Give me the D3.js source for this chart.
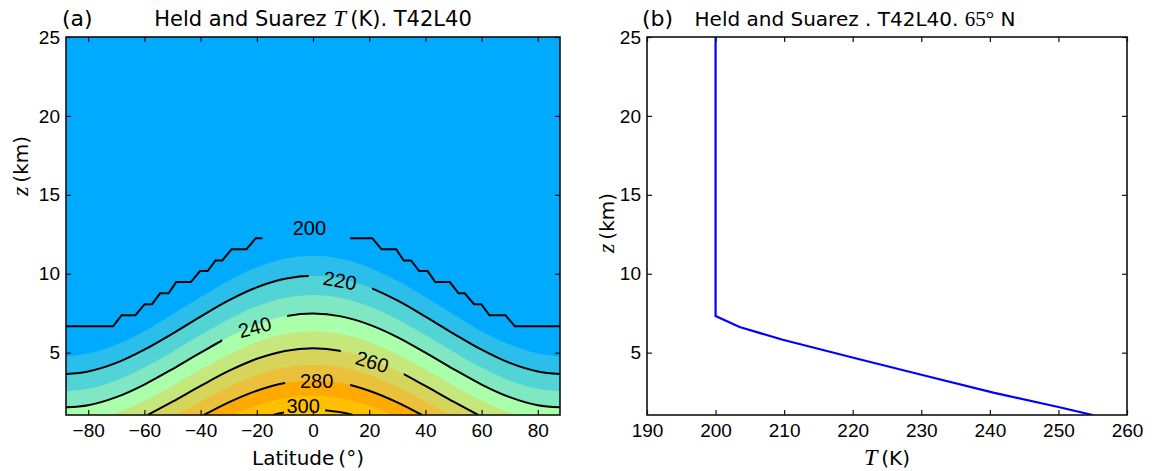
<!DOCTYPE html>
<html>
<head>
<meta charset="utf-8">
<script src="https://d3js.org/d3.v7.min.js"></script>
<style>
  body { margin: 0; background: #fff; }
  text { font-family: 'Liberation Sans', Arial, sans-serif; fill: #000; }
  .lab { font-family: 'DejaVu Sans', sans-serif; }
  .math { font-family: 'Liberation Serif', serif; font-style: italic; }
</style>
<title>Held and Suarez T42L40</title>
</head>
<body>
<script>
var W = 1157, H = 471;
var zBottom = 1.05, zTop = 25;

// contour heights (km)
var lat = [-87.9, -80, -70, -60, -50, -40, -30, -20, -10, 0, 10, 20, 30, 40, 50, 60, 70, 80, 87.9];
var z210 = [4.76, 4.95, 5.51, 6.36, 7.41, 8.52, 9.56, 10.40, 10.95, 11.14, 10.95, 10.40, 9.56, 8.52, 7.41, 6.36, 5.51, 4.95, 4.76];
var z220 = [3.64, 3.81, 4.35, 5.19, 6.21, 7.29, 8.31, 9.14, 9.68, 9.87, 9.68, 9.14, 8.31, 7.29, 6.21, 5.19, 4.35, 3.81, 3.64];
var z230 = [2.56, 2.71, 3.24, 4.06, 5.06, 6.12, 7.12, 7.94, 8.46, 8.65, 8.46, 7.94, 7.12, 6.12, 5.06, 4.06, 3.24, 2.71, 2.56];
var z240 = [1.54, 1.67, 2.18, 2.98, 3.96, 5.00, 5.99, 6.78, 7.30, 7.48, 7.30, 6.78, 5.99, 5.00, 3.96, 2.98, 2.18, 1.67, 1.54];
var lat250 = [-71.6, -70, -60, -50, -40, -30, -20, -10, 0, 10, 20, 30, 40, 50, 60, 70, 71.6];
var z250 = [1.05, 1.17, 1.95, 2.91, 3.93, 4.89, 5.67, 6.18, 6.36, 6.18, 5.67, 4.89, 3.93, 2.91, 1.95, 1.17, 1.05];
var lat260 = [-58.8, -50, -40, -30, -20, -10, 0, 10, 20, 30, 40, 50, 58.8];
var z260 = [1.05, 1.89, 2.89, 3.84, 4.61, 5.11, 5.28, 5.11, 4.61, 3.84, 2.89, 1.89, 1.05];
var lat270 = [-48.6, -40, -30, -20, -10, 0, 10, 20, 30, 40, 48.6];
var z270 = [1.05, 1.90, 2.83, 3.58, 4.08, 4.24, 4.08, 3.58, 2.83, 1.90, 1.05];
var lat280 = [-38.8, -30, -20, -10, 0, 10, 20, 30, 38.8];
var z280 = [1.05, 1.85, 2.59, 3.08, 3.24, 3.08, 2.59, 1.85, 1.05];
var lat290 = [-28.2, -20, -10, 0, 10, 20, 28.2];
var z290 = [1.05, 1.63, 2.11, 2.28, 2.11, 1.63, 1.05];
var lat300 = [-14.2, -10, 0, 10, 14.2];
var z300 = [1.05, 1.22, 1.36, 1.22, 1.05];

// the 200 K contour (stepped, follows model levels)
var lat200L = [-87.9, -71.1, -68.1, -63.2, -59.9, -57.3, -54.4, -51.4, -48.7, -43.5, -40.2, -37.5, -34.7, -32.3, -29.0, -23.7, -20.4, -18.0];
var z200L = [6.68, 6.68, 7.37, 7.37, 8.07, 8.07, 8.76, 8.76, 9.47, 9.47, 10.17, 10.17, 10.84, 10.84, 11.55, 11.55, 12.25, 12.25];
var lat200R = [13.2, 21.1, 24.4, 29.6, 32.3, 34.9, 37.8, 40.8, 43.5, 48.7, 51.8, 54.0, 57.3, 59.9, 62.8, 68.5, 71.8, 87.9];
var z200R = [12.25, 12.25, 11.55, 11.55, 10.84, 10.84, 10.17, 10.17, 9.47, 9.47, 8.76, 8.76, 8.07, 8.07, 7.37, 7.37, 6.68, 6.68];

var levels = [210, 220, 230, 240, 250, 260, 270, 280, 290, 300];
var bandColors = ["#00AAFF", "#2BBEEB", "#52D3D6", "#7FE7C1", "#AAFFAA", "#C5E77C", "#D7D45C", "#EBC03B", "#FFAA00", "#FFC000", "#FFC800"];

// contour labels: text, lat, z, rotation, gap in line
var labelText = ["200", "220", "240", "260", "280", "300"];
var labelLat = [-1.3, 9.6, -20.7, 21.1, 1.3, -3.5];
var labelZ = [12.94, 9.58, 6.62, 4.43, 3.21, 1.62];
var labelRot = [0, 10, -15, 17, 0, 0];
var gapFrom = [null, -1.5, -32.3, 9.9, -9.9, -10.3];
var gapTo = [null, 21.0, -9.2, 32.3, 13.2, 4.3];

// panel (b): profile at 65N
var T65 = [255.0, 250.0, 240.5, 230.3, 220.1, 209.8, 203.5, 200.0, 200.0];
var z65 = [1.05, 1.56, 2.47, 3.57, 4.68, 5.82, 6.62, 7.32, 25];

var latTicks = [-80, -60, -40, -20, 0, 20, 40, 60, 80];
var zTicks = [5, 10, 15, 20, 25];
var tTicks = [190, 200, 210, 220, 230, 240, 250, 260];

var svg = d3.select("body").append("svg").attr("width", W).attr("height", H);

var plotTop = 37, plotBottom = 415;
var xa = d3.scaleLinear().domain([-87.9, 87.9]).range([66, 560]);
var xb = d3.scaleLinear().domain([190, 260]).range([647, 1127]);
var y = d3.scaleLinear().domain([zBottom, zTop]).range([plotBottom, plotTop]);

var defs = svg.append("defs");
defs.append("clipPath").attr("id", "clipA").append("rect")
    .attr("x", xa.range()[0]).attr("y", plotTop)
    .attr("width", xa.range()[1] - xa.range()[0]).attr("height", plotBottom - plotTop);

// ---- panel (a) fills
var ga = svg.append("g").attr("clip-path", "url(#clipA)");
ga.append("rect").attr("x", xa.range()[0]).attr("y", plotTop)
    .attr("width", xa.range()[1] - xa.range()[0]).attr("height", plotBottom - plotTop)
    .style("fill", bandColors[0]);

var contourLat = [lat, lat, lat, lat, lat250, lat260, lat270, lat280, lat290, lat300];
var contourZ = [z210, z220, z230, z240, z250, z260, z270, z280, z290, z300];

var area = d3.area()
    .x(function(d) { return xa(d[0]); })
    .y0(plotBottom + 2)
    .y1(function(d) { return y(d[1]); })
    .curve(d3.curveMonotoneX);
var line = d3.line()
    .x(function(d) { return xa(d[0]); })
    .y(function(d) { return y(d[1]); })
    .curve(d3.curveMonotoneX);

levels.forEach(function(lv, i) {
    ga.append("path").datum(d3.zip(contourLat[i], contourZ[i]))
        .attr("d", area).style("fill", bandColors[i + 1]);
});

// ---- contour lines
var lineIdx = [null, 1, 3, 5, 7, 9]; // 220, 240, 260, 280, 300
lineIdx.forEach(function(li, k) {
    if (li === null) return;
    var id = "gap" + k;
    var cp = defs.append("clipPath").attr("id", id);
    cp.append("rect").attr("x", xa.range()[0]).attr("y", plotTop)
        .attr("width", xa(gapFrom[k]) - xa.range()[0]).attr("height", plotBottom - plotTop);
    cp.append("rect").attr("x", xa(gapTo[k])).attr("y", plotTop)
        .attr("width", xa.range()[1] - xa(gapTo[k])).attr("height", plotBottom - plotTop);
    ga.append("g").attr("clip-path", "url(#" + id + ")")
        .append("path").datum(d3.zip(contourLat[li], contourZ[li]))
        .attr("d", line)
        .style("fill", "none").style("stroke", "#000").style("stroke-width", 2);
});

var stepLine = d3.line().x(function(d) { return xa(d[0]); }).y(function(d) { return y(d[1]); });
[[lat200L, z200L], [lat200R, z200R]].forEach(function(s) {
    ga.append("path").datum(d3.zip(s[0], s[1])).attr("d", stepLine)
        .style("fill", "none").style("stroke", "#000").style("stroke-width", 2);
});

labelText.forEach(function(t, k) {
    ga.append("text")
        .attr("transform", "translate(" + xa(labelLat[k]) + "," + y(labelZ[k]) + ") rotate(" + labelRot[k] + ")")
        .attr("text-anchor", "middle").attr("dy", "0.36em")
        .style("font-size", "20px").text(t);
});

// ---- panel (b)
defs.append("clipPath").attr("id", "clipB").append("rect")
    .attr("x", xb.range()[0]).attr("y", plotTop)
    .attr("width", xb.range()[1] - xb.range()[0]).attr("height", plotBottom - plotTop);
svg.append("g").attr("clip-path", "url(#clipB)")
    .append("path").datum(d3.zip(T65, z65))
    .attr("d", d3.line().x(function(d) { return xb(d[0]); }).y(function(d) { return y(d[1]); }))
    .style("fill", "none").style("stroke", "#0000FF").style("stroke-width", 2.2);

// ---- axes
function drawAxes(x, ticksX, fmt) {
    var x0 = x.range()[0], x1 = x.range()[1];
    var g = svg.append("g");
    g.append("g").attr("transform", "translate(0," + plotBottom + ")")
        .call(d3.axisBottom(x).tickValues(ticksX).tickFormat(fmt).tickSizeInner(-5).tickSizeOuter(0).tickPadding(9));
    g.append("g").attr("transform", "translate(0," + plotTop + ")")
        .call(d3.axisTop(x).tickValues(ticksX).tickFormat("").tickSizeInner(-5).tickSizeOuter(0));
    g.append("g").attr("transform", "translate(" + x0 + ",0)")
        .call(d3.axisLeft(y).tickValues(zTicks).tickSizeInner(-5).tickSizeOuter(0).tickPadding(6));
    g.append("g").attr("transform", "translate(" + x1 + ",0)")
        .call(d3.axisRight(y).tickValues(zTicks).tickFormat("").tickSizeInner(-5).tickSizeOuter(0));
    g.selectAll(".domain").remove();
    g.selectAll(".tick line").style("stroke", "#111").style("stroke-width", 1.2);
    g.selectAll(".tick text").style("font-size", "19px").style("font-family", "'Liberation Sans', Arial, sans-serif").style("fill", "#000");
    g.append("rect").attr("x", x0).attr("y", plotTop).attr("width", x1 - x0).attr("height", plotBottom - plotTop)
        .style("fill", "none").style("stroke", "#111").style("stroke-width", 1.6);
}
drawAxes(xa, latTicks, d3.format("d"));
drawAxes(xb, tTicks, d3.format("d"));

// ---- titles and labels
function title(x, size) {
    return svg.append("text").attr("class", "lab").attr("x", x).attr("y", 26)
        .attr("text-anchor", "middle").style("font-size", size + "px");
}
svg.append("text").attr("class", "lab").attr("x", 62).attr("y", 26).style("font-size", "22px").text("(a)");
svg.append("text").attr("class", "lab").attr("x", 642).attr("y", 26).style("font-size", "22px").text("(b)");

var ta = title(313, 21);
ta.append("tspan").text("Held and Suarez ");
ta.append("tspan").attr("class", "math").style("font-size", "23px").text("T");
ta.append("tspan").text("\u2009(K).  T42L40");

var tb = title(855, 20);
tb.append("tspan").text("Held and Suarez .  T42L40.  ");
tb.append("tspan").attr("class", "math").style("font-style", "normal").style("font-size", "21px").text("65°");
tb.append("tspan").text(" N");

var xla = svg.append("text").attr("class", "lab").attr("x", 308).attr("y", 465)
    .attr("text-anchor", "middle").style("font-size", "20px");
xla.append("tspan").text("Latitude\u2009(°)");

var xlb = svg.append("text").attr("class", "lab").attr("x", 887).attr("y", 465)
    .attr("text-anchor", "middle").style("font-size", "20px");
xlb.append("tspan").attr("class", "math").style("font-size", "24px").text("T");
xlb.append("tspan").text("\u2009(K)");

function ylabel(x, yc) {
    var t = svg.append("text").attr("class", "lab").attr("transform", "translate(" + x + "," + yc + ") rotate(-90)")
        .attr("text-anchor", "middle").style("font-size", "20px");
    t.append("tspan").attr("class", "math").style("font-size", "24px").text("z");
    t.append("tspan").text("\u2009(km)");
}
ylabel(28, 166);
ylabel(614, 223);
</script>
</body>
</html>
